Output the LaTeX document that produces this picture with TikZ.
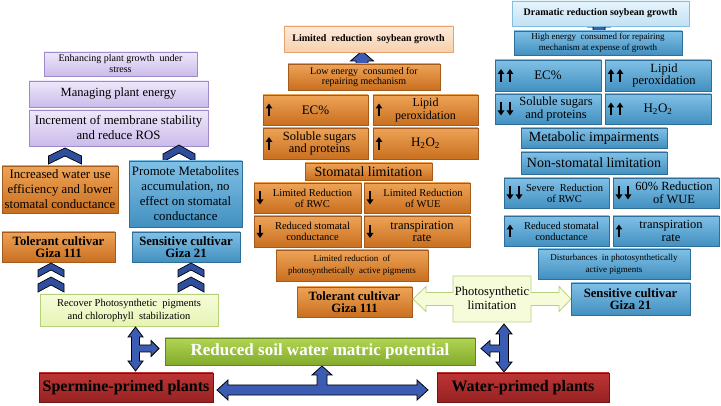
\documentclass[tikz,border=0pt]{standalone}
\usepackage{fontspec}
\setmainfont{Liberation Serif}
\usetikzlibrary{shadows,arrows.meta}
\definecolor{oT}{HTML}{EEA356}
\definecolor{oB}{HTML}{C96F20}
\definecolor{oD}{HTML}{A45A1C}
\definecolor{bT}{HTML}{80C0E6}
\definecolor{bB}{HTML}{4290C0}
\definecolor{bD}{HTML}{2F6E98}
\definecolor{lavT}{HTML}{EFE8FB}
\definecolor{lavB}{HTML}{CBBBEA}
\definecolor{lavD}{HTML}{9F8ACB}
\definecolor{lgT}{HTML}{F6FCDA}
\definecolor{lgB}{HTML}{E6F4B4}
\definecolor{lgD}{HTML}{B5D27A}
\definecolor{gT}{HTML}{B2D552}
\definecolor{gB}{HTML}{82AA2C}
\definecolor{gD}{HTML}{62841E}
\definecolor{rT}{HTML}{BE3535}
\definecolor{rB}{HTML}{962222}
\definecolor{rD}{HTML}{6A1414}
\definecolor{pT}{HTML}{FDEADB}
\definecolor{pB}{HTML}{F7D0AE}
\definecolor{pD}{HTML}{E3A472}
\definecolor{lbT}{HTML}{E6F4FC}
\definecolor{lbB}{HTML}{C2E2F4}
\definecolor{lbD}{HTML}{86BEDD}
\definecolor{arrblue}{HTML}{3C5CB4}
\definecolor{chevblue}{HTML}{2F4F9E}
\newcommand\fsz[2]{\fontsize{#1}{#2}\selectfont}
\newcommand\mybox[7]{\node[#2, minimum width={#5-#3}, minimum height={#6-#4}] (#1) at ({(#3+#5)/2},{(#4+#6)/2}) {#7};}
% #7: list of directions, 1 = up, -1 = down
\newcommand\myabox[9]{\mybox{#1}{#2}{#3}{#4}{#5}{#6}{}
  \foreach \s [count=\i] in {#7} {
    \draw[glyarr] ([xshift={6pt+(\i-1)*9pt}, yshift={-\s*6.5pt}]#1.west) -- ++(0,{-\s*13});
  }
  \node[align=center, inner sep=0pt, #9] (#1t) at (#1.center) {#8};}
\newcommand\chev[5]{\filldraw[chevst] ({#1},{#2}) -- ({#1+#3/2},{#2+#4}) -- ({#1+#3/2},{#2+#4+#5}) -- ({#1},{#2+#5}) -- ({#1-#3/2},{#2+#4+#5}) -- ({#1-#3/2},{#2+#4}) -- cycle;}
\tikzset{
  bxbase/.style={inner sep=1pt, outer sep=0pt, align=center, line width=0.6pt,
    drop shadow={shadow xshift=1.2pt, shadow yshift=-1.2pt, opacity=.35, fill=black}},
  ob/.style={bxbase, top color=oT, bottom color=oB, draw=oD},
  bb/.style={bxbase, top color=bT, bottom color=bB, draw=bD},
  lav/.style={bxbase, top color=lavT, bottom color=lavB, draw=lavD},
  lgr/.style={bxbase, top color=lgT, bottom color=lgB, draw=lgD},
  gbar/.style={bxbase, top color=gT, bottom color=gB, draw=gD, text=white},
  dred/.style={bxbase, top color=rT, bottom color=rB, draw=rD},
  peach/.style={bxbase, top color=pT, bottom color=pB, draw=pD},
  lblue/.style={bxbase, top color=lbT, bottom color=lbB, draw=lbD},
  glyarr/.style={line width=1.5pt, -{Triangle[width=6.5pt,length=5pt]}},
  chevst/.style={fill=chevblue, draw=black, line width=0.7pt, line join=miter},
  barrow/.style={fill=arrblue, draw=black, line width=0.8pt, line join=miter},
  phl/.style={fill=lgT, draw=lgD, line width=0.8pt, line join=miter}
}
\begin{document}
\begin{tikzpicture}[x=1pt,y=-1pt]
\useasboundingbox[fill=white] (0,0) rectangle (721,406);
% ---------- left column ----------
\mybox{enh}{lav, font=\fsz{10}{11}}{44}{52}{197}{76}{Enhancing plant growth\ \ under\\stress}
\mybox{man}{lav, font=\fsz{12.5}{14}}{29}{81}{208}{107}{Managing plant energy}
\mybox{inc}{lav, font=\fsz{12.8}{15}}{29}{110}{208}{146}{Increment of membrane stability\\and reduce ROS}
\chev{65}{148}{33}{8}{8}
\chev{179}{145}{32}{9}{8}
\mybox{iwu}{ob, font=\fsz{12.8}{15}}{2}{166}{118}{213}{Increased water use\\efficiency and lower\\stomatal conductance}
\mybox{pma}{bb, font=\fsz{12.8}{15}}{129}{161}{242}{227}{Promote Metabolites\\accumulation, no\\effect on stomatal\\conductance}
\mybox{tol1}{ob, font=\fsz{12.7}{12.5}\bfseries}{2}{232}{115}{262}{Tolerant cultivar\\Giza 111}
\mybox{sen1}{bb, font=\fsz{12.7}{12.5}\bfseries}{132}{232}{240}{262}{Sensitive cultivar\\Giza 21}
\chev{51}{263}{26}{7}{7}
\chev{51}{277}{26}{7}{8}
\chev{191}{263}{26}{7}{7}
\chev{191}{277}{26}{7}{8}
\mybox{rec}{lgr, font=\fsz{10.5}{13}}{40}{294}{218}{326}{Recover Photosynthetic\ \ pigments\\and chlorophyll\ \ stabilization}
% ---------- bottom ----------
\filldraw[barrow] (135.5,327) -- (143,337) -- (139.5,337) -- (139.5,345) -- (151,345) -- (151,340.5) -- (159,348.5) -- (151,356.5) -- (151,352) -- (139.5,352) -- (139.5,361) -- (143,361) -- (135.5,371) -- (128,361) -- (131.5,361) -- (131.5,337) -- (128,337) -- cycle;
\filldraw[barrow] (504,324) -- (512,334) -- (508.5,334) -- (508.5,362) -- (512,362) -- (504,372) -- (496,362) -- (499.5,362) -- (499.5,352) -- (490,352) -- (490,356.5) -- (481,348.5) -- (490,340.5) -- (490,345) -- (499.5,345) -- (499.5,334) -- (496,334) -- cycle;
\filldraw[barrow] (217,390) -- (228,380) -- (228,385) -- (317,385) -- (317,375) -- (312,375) -- (322,366) -- (332,375) -- (327,375) -- (327,385) -- (417,385) -- (417,380) -- (428,390) -- (417,400) -- (417,395) -- (228,395) -- (228,400) -- cycle;
\mybox{red}{gbar, font=\fsz{17}{18}\bfseries}{165}{338}{475}{365}{Reduced soil water matric potential}
\mybox{sperm}{dred, font=\fsz{16}{17}\bfseries}{39}{373}{213}{402}{Spermine-primed plants}
\mybox{water}{dred, font=\fsz{16}{17}\bfseries}{437}{373}{609}{402}{Water-primed plants}
% ---------- middle column ----------
\filldraw[barrow] (362,51) -- (373.5,61) -- (368,61) -- (368,70) -- (356,70) -- (356,61) -- (350.5,61) -- cycle;
\mybox{lim}{peach, font=\fsz{10}{11}\bfseries}{284}{26}{453}{52}{Limited\ \ reduction\ \ soybean growth}
\mybox{low}{ob, font=\fsz{10}{10}}{288}{64}{440}{90}{Low energy\ \ consumed for\\repairing mechanism}
\myabox{ec1}{ob}{263}{95}{368}{125}{1}{EC\%}{font=\fsz{13}{13}}
\myabox{lp1}{ob}{373}{95}{478}{125}{1}{Lipid\\peroxidation}{font=\fsz{12}{12.5}}
\myabox{ss1}{ob}{263}{128}{368}{159}{1}{Soluble sugars\\and proteins}{font=\fsz{12.5}{12.5}, xshift=4pt}
\myabox{h1}{ob}{373}{128}{478}{159}{1}{H\textsubscript{2}O\textsubscript{2}}{font=\fsz{13}{13}}
\mybox{stl}{ob, font=\fsz{14}{14}}{305}{163}{432}{180}{Stomatal limitation}
\myabox{rwc1}{ob}{254}{183}{361}{213}{-1}{Limited Reduction\\of RWC}{font=\fsz{10.5}{11}, xshift=5pt}
\myabox{wue1}{ob}{364}{183}{470}{213}{-1}{Limited Reduction\\of WUE}{font=\fsz{10.5}{11}, xshift=6pt}
\myabox{sc1}{ob}{254}{216}{361}{247}{-1}{Reduced stomatal\\conductance}{font=\fsz{10.5}{11}, xshift=5pt}
\myabox{tr1}{ob}{364}{216}{470}{247}{-1}{transpiration\\rate}{font=\fsz{12.5}{12.5}, xshift=5pt}
\mybox{lrp}{ob, font=\fsz{9}{12}}{276}{250}{428}{281}{Limited reduction\ \ of\\photosynthetically\ \ active pigments}
\mybox{tol2}{ob, font=\fsz{12.7}{12.5}\bfseries}{297}{287}{412}{317}{Tolerant cultivar\\Giza 111}
\filldraw[phl] (413,299) -- (426,286.5) -- (426,292.5) -- (453,292.5) -- (453,276) -- (531,276) -- (531,292.5) -- (559,292.5) -- (559,286.5) -- (571,299) -- (559,311.5) -- (559,305.5) -- (531,305.5) -- (531,322) -- (453,322) -- (453,305.5) -- (426,305.5) -- (426,311.5) -- cycle;
\node[align=center, inner sep=0pt, font=\fsz{12.5}{14}] (photo) at (492,298) {Photosynthetic\\limitation};
\mybox{sen2}{bb, font=\fsz{12.7}{12.5}\bfseries}{571}{283}{690}{315}{Sensitive cultivar\\Giza 21}
% ---------- right column ----------
\filldraw[barrow] (599,17) -- (610,27) -- (605,27) -- (605,36) -- (593,36) -- (593,27) -- (588,27) -- cycle;
\mybox{dra}{lblue, font=\fsz{10}{10}\bfseries}{512}{1}{689}{26}{Dramatic reduction soybean growth}
\mybox{high}{bb, font=\fsz{9}{10.5}}{514}{31}{682}{55}{High energy\ \ consumed for repairing\\mechanism at expense of growth}
\myabox{ec2}{bb}{495}{60}{601}{91}{1,1}{EC\%}{font=\fsz{13}{13}}
\myabox{lp2}{bb}{605}{60}{711}{91}{1,1}{Lipid\\peroxidation}{font=\fsz{12.5}{12.5}, xshift=6pt}
\myabox{ss2}{bb}{495}{94}{601}{124}{-1,-1}{Soluble sugars\\and proteins}{font=\fsz{12.5}{12.5}, xshift=8pt}
\myabox{h2}{bb}{605}{94}{711}{124}{1,1}{H\textsubscript{2}O\textsubscript{2}}{font=\fsz{13}{13}}
\mybox{met}{bb, font=\fsz{14}{14}}{521}{128}{667}{148}{Metabolic impairments}
\mybox{nsl}{bb, font=\fsz{14}{14}}{521}{152}{667}{174}{Non-stomatal limitation}
\myabox{rwc2}{bb}{504}{178}{609}{208}{-1,-1}{Severe\ \ Reduction\\of RWC}{font=\fsz{10.5}{11}, xshift=8pt}
\myabox{wue2}{bb}{613}{178}{719}{208}{-1,-1}{60\% Reduction\\of WUE}{font=\fsz{12.5}{12.5}, xshift=8pt}
\myabox{sc2}{bb}{504}{216}{609}{246}{1}{Reduced stomatal\\conductance}{font=\fsz{10.5}{11}, xshift=5pt}
\myabox{tr2}{bb}{613}{216}{719}{246}{1}{transpiration\\rate}{font=\fsz{12.5}{12.5}, xshift=5pt}
\mybox{dis}{bb, font=\fsz{9}{12}}{538}{249}{690}{279}{Disturbances\ \ in photosynthetically\\active pigments}
\end{tikzpicture}
\end{document}
